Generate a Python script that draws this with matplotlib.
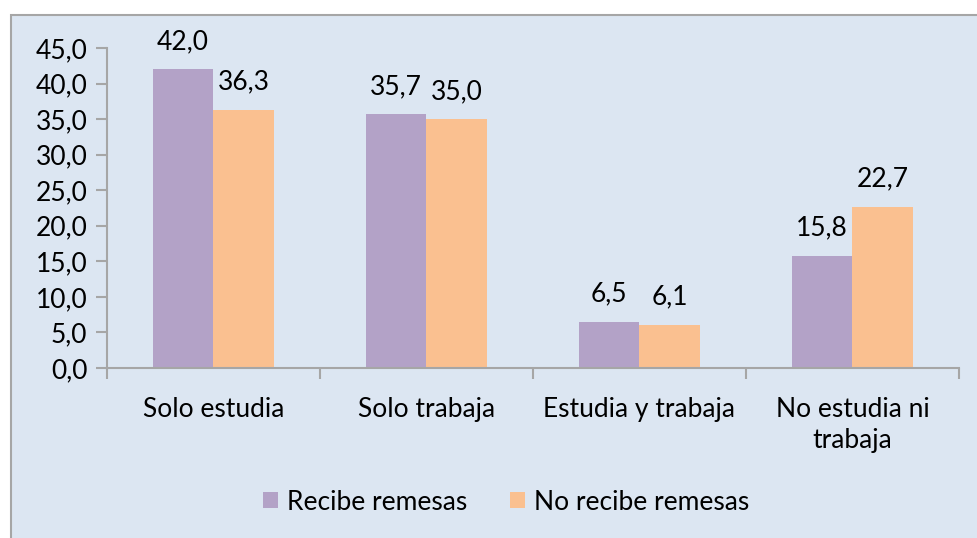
import numpy as np
import matplotlib.pyplot as plt
from matplotlib.patches import Rectangle

plt.rcParams['font.family'] = ['Lato', 'DejaVu Sans']

# Data
categories = ['Solo estudia', 'Solo trabaja', 'Estudia y trabaja', 'No estudia ni\ntrabaja']
recibe = [42.0, 35.7, 6.5, 15.8]
no_recibe = [36.3, 35.0, 6.1, 22.7]
series_names = ['Recibe remesas', 'No recibe remesas']
yticks = [0, 5, 10, 15, 20, 25, 30, 35, 40, 45]

purple = '#B3A2C7'
peach = '#FAC090'
bg = '#DCE6F2'
grey = '#A6A6A6'
fs = 19

fig = plt.figure(figsize=(9.78, 5.38), dpi=100, facecolor='white')
# chart area background with border
fig.patches.append(Rectangle((11 / 978, -0.1), 1.5, 1 - 15 / 538 + 0.1,
                             transform=fig.transFigure, facecolor=bg,
                             edgecolor=grey, linewidth=1.5, zorder=-10))

ax = fig.add_axes([107 / 978, 1 - 368 / 538, (959 - 107) / 978, 320 / 538])
ax.set_facecolor('none')

x = np.arange(len(categories))
w = 0.286
b1 = ax.bar(x - w / 2, recibe, w, color=purple, label=series_names[0])
b2 = ax.bar(x + w / 2, no_recibe, w, color=peach, label=series_names[1])

for bars, vals in ((b1, recibe), (b2, no_recibe)):
    for r, v in zip(bars, vals):
        ax.annotate(f'{v:.1f}'.replace('.', ','),
                    (r.get_x() + r.get_width() / 2, r.get_height()),
                    xytext=(0, 11), textcoords='offset points',
                    ha='center', va='bottom', fontsize=fs)

ax.set_xlim(-0.5, 3.5)
ax.set_ylim(0, 45)
ax.set_yticks(yticks)
ax.set_yticklabels([f'{t:.1f}'.replace('.', ',') for t in yticks], fontsize=fs)
ax.set_xticks(x)
ax.set_xticklabels(categories, fontsize=fs, linespacing=1.3)
ax.set_xticks(np.arange(-0.5, 4, 1), minor=True)
ax.tick_params(axis='x', which='major', length=0, pad=21)
ax.tick_params(axis='x', which='minor', length=8, color=grey, width=1.5)
ax.tick_params(axis='y', length=8, color=grey, width=1.5, pad=6)

for s in ('top', 'right'):
    ax.spines[s].set_visible(False)
for s in ('left', 'bottom'):
    ax.spines[s].set_color(grey)
    ax.spines[s].set_linewidth(1.5)

fig.legend(handles=[b1, b2], loc='center', bbox_to_anchor=(506 / 978, 1 - 502 / 538),
           ncol=2, frameon=False, fontsize=fs, handlelength=0.58, handleheight=0.58,
           handletextpad=0.35, columnspacing=1.6)

fig.savefig('out.png', dpi=100, facecolor='white')
